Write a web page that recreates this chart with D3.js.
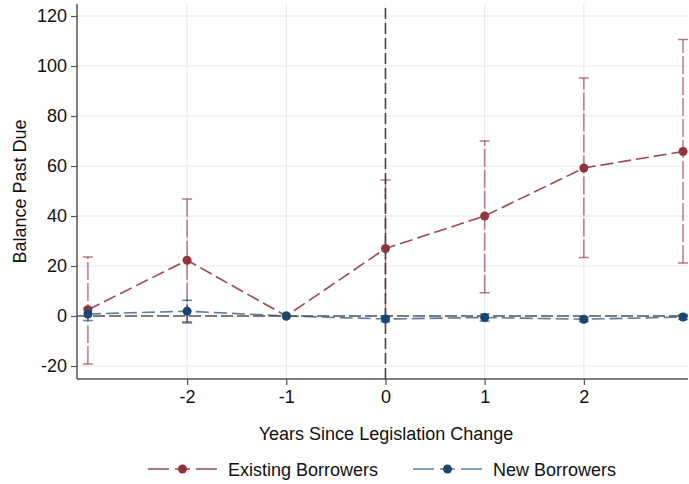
<!DOCTYPE html>
<html>
<head>
<meta charset="utf-8">
<script src="https://cdn.jsdelivr.net/npm/d3@7"></script>
<style>
  body { margin: 0; background: #fff; }
  text { font-family: "Liberation Sans", Arial, Helvetica, sans-serif; fill: #111; }
</style>
</head>
<body>
<svg id="chart" width="689" height="484"></svg>
<script>
// event-time data
const years = [-3, -2, -1, 0, 1, 2, 3];
const xTicks = [-2, -1, 0, 1, 2];
const yTicks = [-20, 0, 20, 40, 60, 80, 100, 120];

const existingEst = [2.5, 22.3, 0, 27, 40, 59.2, 65.8];
const existingLo = [-19.2, -2.3, null, -0.5, 9.3, 23.4, 21.2];
const existingHi = [23.6, 46.8, null, 54.4, 70, 95.2, 110.6];

const newEst = [0.8, 1.9, 0, -1.2, -0.6, -1.3, -0.4];
const newLo = [-1.8, -2.8, null, -2.2, -2, -2.2, -1.4];
const newHi = [3.2, 6.3, null, 0, 0.8, -0.4, 0.6];

const seriesNames = ["Existing Borrowers", "New Borrowers"];

// get svg
const svg = d3.select("#chart");
const margin = { left: 77, right: 1, top: 4, bottom: 105 };
const width = +svg.attr("width");
const height = +svg.attr("height");

const maroon = "#90353b";
const navy = "#1a476f";

const x = d3.scaleLinear()
    .domain([-3.11, 3.05])
    .range([margin.left, width - margin.right]);

const y = d3.scaleLinear()
    .domain([-25.2, 124.8])
    .range([height - margin.bottom, margin.top]);

// grid lines
const grid = svg.append("g");
grid.selectAll(".gy")
    .data(yTicks)
    .enter().append("line")
    .attr("x1", x.range()[0]).attr("x2", x.range()[1])
    .attr("y1", d => y(d)).attr("y2", d => y(d))
    .attr("stroke", "#eaeaea").attr("stroke-width", 1.2);
grid.selectAll(".gx")
    .data(xTicks)
    .enter().append("line")
    .attr("x1", d => x(d)).attr("x2", d => x(d))
    .attr("y1", y.range()[0]).attr("y2", y.range()[1])
    .attr("stroke", "#eaeaea").attr("stroke-width", 1.2);

// axes
const fmt = d => String(d);
const yAxis = svg.append("g")
    .attr("transform", "translate(" + margin.left + ",0)")
    .call(d3.axisLeft(y).tickValues(yTicks).tickFormat(fmt).tickSize(6).tickPadding(4));
const xAxis = svg.append("g")
    .attr("transform", "translate(0," + (height - margin.bottom) + ")")
    .call(d3.axisBottom(x).tickValues(xTicks).tickFormat(fmt).tickSize(6).tickPadding(5));

[yAxis, xAxis].forEach(a => {
    a.select(".domain").attr("stroke", "#555").attr("stroke-width", 1.5);
    a.selectAll(".tick line").attr("stroke", "#555").attr("stroke-width", 1.2);
    a.selectAll(".tick text").style("font-size", "18px")
        .style("font-family", "'Liberation Sans', Arial, sans-serif").attr("fill", "#111");
});
xAxis.select(".domain").attr("d", "M" + x.range()[0] + ",0H" + x.range()[1]);
yAxis.select(".domain").attr("d", "M0," + y.range()[0] + "V" + y.range()[1]);

// axis titles
svg.append("text")
    .attr("transform", "translate(26," + ((y.range()[0] + y.range()[1]) / 2) + ") rotate(-90)")
    .attr("text-anchor", "middle")
    .style("font-size", "18px")
    .text("Balance Past Due");
svg.append("text")
    .attr("x", 386)
    .attr("y", 440)
    .attr("text-anchor", "middle")
    .style("font-size", "18px")
    .text("Years Since Legislation Change");

// series
const series = [
    { name: seriesNames[0], color: maroon, lineOpacity: 0.9, est: existingEst, lo: existingLo, hi: existingHi },
    { name: seriesNames[1], color: navy, lineOpacity: 0.7, est: newEst, lo: newLo, hi: newHi }
];

const line = d3.line()
    .x(d => x(d.year))
    .y(d => y(d.est));

const layers = series.map(s => {
    const rows = years.map((yr, i) => ({ year: yr, est: s.est[i], lo: s.lo[i], hi: s.hi[i] }));
    const g = svg.append("g");
    const ci = rows.filter(d => d.lo !== null);

    // confidence intervals
    g.selectAll(".ci")
        .data(ci)
        .enter().append("line")
        .attr("x1", d => x(d.year)).attr("x2", d => x(d.year))
        .attr("y1", d => y(d.lo)).attr("y2", d => y(d.hi))
        .attr("stroke", s.color).attr("stroke-opacity", 0.65)
        .attr("stroke-width", 1.5)
        .attr("stroke-dasharray", "18,3");
    ["lo", "hi"].forEach(k => {
        g.selectAll(".cap-" + k)
            .data(ci)
            .enter().append("line")
            .attr("x1", d => x(d.year) - 5).attr("x2", d => x(d.year) + 5)
            .attr("y1", d => y(d[k])).attr("y2", d => y(d[k]))
            .attr("stroke", s.color).attr("stroke-opacity", 0.65)
            .attr("stroke-width", 1.5);
    });

    // connecting line
    g.append("path")
        .datum(rows)
        .attr("d", line)
        .attr("fill", "none")
        .attr("stroke", s.color).attr("stroke-opacity", s.lineOpacity)
        .attr("stroke-width", 1.6)
        .attr("stroke-dasharray", "13,5");
    return { s, rows };
});

// reference lines
svg.append("line")
    .attr("x1", x.range()[0]).attr("x2", x.range()[1])
    .attr("y1", y(0)).attr("y2", y(0))
    .attr("stroke", "#555").attr("stroke-width", 1.6)
    .attr("stroke-dasharray", "12,4");
svg.append("line")
    .attr("x1", x(0)).attr("x2", x(0))
    .attr("y1", y.range()[0]).attr("y2", y.range()[1])
    .attr("stroke", "#444").attr("stroke-width", 1.6)
    .attr("stroke-dasharray", "11,4");

// markers
layers.forEach(l => {
    svg.append("g").selectAll(".pt")
        .data(l.rows)
        .enter().append("circle")
        .attr("cx", d => x(d.year))
        .attr("cy", d => y(d.est))
        .attr("r", 4.5)
        .attr("fill", l.s.color);
});

// legend
const legend = svg.append("g");
const legendX = [148, 413];
series.forEach((s, i) => {
    const lg = legend.append("g").attr("transform", "translate(" + legendX[i] + ",469)");
    lg.append("line")
        .attr("x1", 0).attr("x2", 69)
        .attr("y1", 0).attr("y2", 0)
        .attr("stroke", s.color).attr("stroke-opacity", s.lineOpacity)
        .attr("stroke-width", 1.6)
        .attr("stroke-dasharray", "21,6,15,6,21");
    lg.append("circle").attr("cx", 34.5).attr("cy", 0).attr("r", 4.5).attr("fill", s.color);
    lg.append("text")
        .attr("x", 80).attr("y", 7)
        .style("font-size", "18px")
        .text(s.name);
});
</script>
</body>
</html>
